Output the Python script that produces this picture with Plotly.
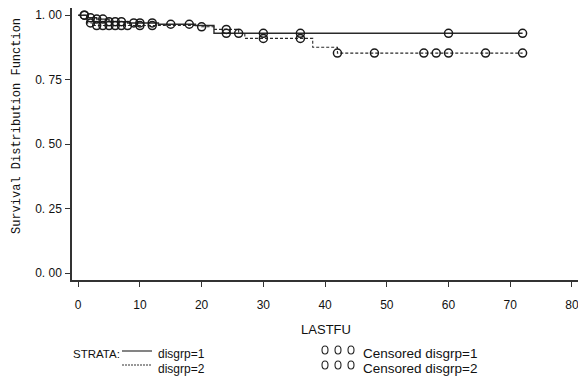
import plotly.graph_objects as go

# ---- data ----
g1_times = [0, 1.5, 3, 5, 8, 13, 19, 22, 72]
g1_surv = [1.0, 0.99, 0.985, 0.975, 0.97, 0.965, 0.96, 0.93, 0.93]
g1_cens_t = [1, 2, 3, 4, 5, 6, 7, 9, 10, 12, 15, 18, 24, 30, 36, 60, 72]

g2_times = [0, 1.5, 2.5, 20, 22, 26, 27, 38, 42, 72]
g2_surv = [1.0, 0.97, 0.96, 0.955, 0.945, 0.93, 0.91, 0.876, 0.853, 0.853]
g2_cens_t = [1, 2, 3, 4, 5, 6, 7, 8, 10, 12, 20, 24, 26, 30, 36, 42, 48, 56, 58, 60, 66, 72]

x_ticks = [0, 10, 20, 30, 40, 50, 60, 70, 80]
y_ticks = [0.0, 0.25, 0.5, 0.75, 1.0]
y_ticktext = ["0. 00", "0. 25", "0. 50", "0. 75", "1. 00"]


def step_value(times, surv, t):
    v = surv[0]
    for tt, s in zip(times, surv):
        if tt <= t:
            v = s
    return v


g1_cens_s = [step_value(g1_times, g1_surv, t) for t in g1_cens_t]
g2_cens_s = [step_value(g2_times, g2_surv, t) for t in g2_cens_t]

OFF = 8  # page body margin
W, H = 586 - OFF, 381 - OFF
# plot area in page pixels
L, R, T, B = 72, 580, 8, 280


def px(x):
    return (x - L) / (R - L)


def py(y):
    return (B - y) / (B - T)


fig = go.Figure()
fig.add_trace(go.Scatter(x=g1_times, y=g1_surv, mode="lines", line_shape="hv",
                         line=dict(color="#2a2a2a", width=1.4), showlegend=False))
fig.add_trace(go.Scatter(x=g2_times, y=g2_surv, mode="lines", line_shape="hv",
                         line=dict(color="#2a2a2a", width=1.1, dash="3px,2px"), showlegend=False))
fig.add_trace(go.Scatter(x=g1_cens_t, y=g1_cens_s, mode="markers",
                         marker=dict(symbol="circle-open", size=8, color="#1a1a1a",
                                     line=dict(width=1.5)), showlegend=False))
fig.add_trace(go.Scatter(x=g2_cens_t, y=g2_cens_s, mode="markers",
                         marker=dict(symbol="circle-open", size=8, color="#1a1a1a",
                                     line=dict(width=1.5)), showlegend=False))

font_main = "Liberation Sans, Arial, sans-serif"
lf = dict(family=font_main, size=12, color="#111")
rf = dict(family=font_main, size=13.5, color="#111")

shapes = []
annotations = []
# y axis title (placed like the reference, slightly above centre)
annotations.append(dict(x=px(17), y=py(126), xref="paper", yref="paper",
                        text="Survival Distribution Function", textangle=-90,
                        showarrow=False, xanchor="center", yanchor="middle",
                        font=dict(family="Liberation Mono, DejaVu Sans Mono, monospace",
                                  size=12, color="#111")))
# legend
annotations.append(dict(x=px(71), y=py(354), xref="paper", yref="paper", text="STRATA:",
                        showarrow=False, xanchor="left", yanchor="middle",
                        font=dict(family=font_main, size=11.5, color="#111")))
shapes.append(dict(type="line", xref="paper", yref="paper", x0=px(122), x1=px(152),
                   y0=py(351), y1=py(351), line=dict(color="#333", width=1.2)))
shapes.append(dict(type="line", xref="paper", yref="paper", x0=px(122), x1=px(152),
                   y0=py(365), y1=py(365), line=dict(color="#333", width=1.1, dash="2px,1px")))
annotations.append(dict(x=px(156), y=py(354), xref="paper", yref="paper", text="disgrp=1",
                        showarrow=False, xanchor="left", yanchor="middle", font=lf))
annotations.append(dict(x=px(156), y=py(369), xref="paper", yref="paper", text="disgrp=2",
                        showarrow=False, xanchor="left", yanchor="middle", font=lf))
for yy in (350, 365):
    for xx in (325, 338, 351):
        shapes.append(dict(type="circle", xref="paper", yref="paper",
                           x0=px(xx - 3), x1=px(xx + 3), y0=py(yy - 4), y1=py(yy + 4),
                           line=dict(color="#222", width=1.1)))
annotations.append(dict(x=px(361), y=py(353), xref="paper", yref="paper", text="Censored disgrp=1",
                        showarrow=False, xanchor="left", yanchor="middle", font=rf))
annotations.append(dict(x=px(361), y=py(368), xref="paper", yref="paper", text="Censored disgrp=2",
                        showarrow=False, xanchor="left", yanchor="middle", font=rf))

fig.update_layout(
    width=W, height=H,
    margin=dict(l=L - OFF, r=W - (R - OFF), t=T - OFF, b=H - (B - OFF), autoexpand=False),
    plot_bgcolor="white", paper_bgcolor="white",
    shapes=shapes, annotations=annotations,
    font=dict(family=font_main, size=12, color="#111"),
    xaxis=dict(range=[-1.0, 81.3], tickvals=x_ticks, ticks="outside", ticklen=5,
               tickwidth=1.3, tickcolor="#333", showgrid=False, zeroline=False,
               showline=True, linecolor="#333", linewidth=1.5, mirror=True,
               ticklabelstandoff=8,
               tickfont=dict(family=font_main, size=12),
               title=dict(text="LASTFU", font=dict(family=font_main, size=13), standoff=14)),
    yaxis=dict(range=[-0.027, 1.028], tickvals=y_ticks, ticktext=y_ticktext,
               ticks="outside", ticklen=5, tickwidth=1.3, tickcolor="#333",
               showgrid=False, zeroline=False, showline=True, linecolor="#333",
               linewidth=1.5, mirror=True, ticklabelstandoff=1,
               tickfont=dict(family=font_main, size=12)),
)

fig.write_html("out.html")
